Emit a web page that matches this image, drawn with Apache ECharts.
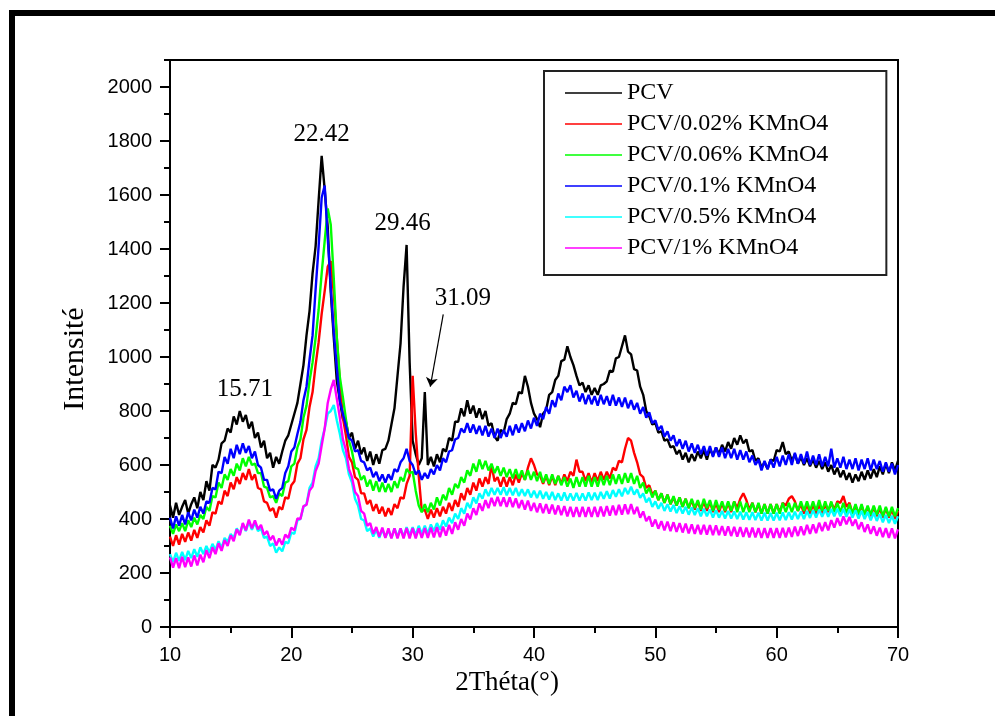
<!DOCTYPE html>
<html><head><meta charset="utf-8">
<script src="https://cdn.jsdelivr.net/npm/echarts@6/dist/echarts.min.js"></script>
<style>html,body{margin:0;padding:0;background:#fff}#c{width:995px;height:716px}</style>
</head><body><div id="c"></div>
<script>
const twoTheta = [
10,10.25,10.5,10.75,11,11.25,11.5,11.75,12,12.25,12.5,12.75,13,13.25,13.5,13.75,14,14.25,14.5,14.75,
15,15.25,15.5,15.75,16,16.25,16.5,16.75,17,17.25,17.5,17.75,18,18.25,18.5,18.75,19,19.25,19.5,19.75,
20,20.25,20.5,20.75,21,21.25,21.5,21.75,22,22.25,22.5,22.75,23,23.25,23.5,23.75,24,24.25,24.5,24.75,
25,25.25,25.5,25.75,26,26.25,26.5,26.75,27,27.25,27.5,27.75,28,28.25,28.5,28.75,29,29.25,29.5,29.75,
30,30.25,30.5,30.75,31,31.25,31.5,31.75,32,32.25,32.5,32.75,33,33.25,33.5,33.75,34,34.25,34.5,34.75,
35,35.25,35.5,35.75,36,36.25,36.5,36.75,37,37.25,37.5,37.75,38,38.25,38.5,38.75,39,39.25,39.5,39.75,
40,40.25,40.5,40.75,41,41.25,41.5,41.75,42,42.25,42.5,42.75,43,43.25,43.5,43.75,44,44.25,44.5,44.75,
45,45.25,45.5,45.75,46,46.25,46.5,46.75,47,47.25,47.5,47.75,48,48.25,48.5,48.75,49,49.25,49.5,49.75,
50,50.25,50.5,50.75,51,51.25,51.5,51.75,52,52.25,52.5,52.75,53,53.25,53.5,53.75,54,54.25,54.5,54.75,
55,55.25,55.5,55.75,56,56.25,56.5,56.75,57,57.25,57.5,57.75,58,58.25,58.5,58.75,59,59.25,59.5,59.75,
60,60.25,60.5,60.75,61,61.25,61.5,61.75,62,62.25,62.5,62.75,63,63.25,63.5,63.75,64,64.25,64.5,64.75,
65,65.25,65.5,65.75,66,66.25,66.5,66.75,67,67.25,67.5,67.75,68,68.25,68.5,68.75,69,69.25,69.5,69.75,
70];

const pcv = [
450,405,460,415,445,470,420,455,480,440,500,470,540,505,600,590,620,680,690,735,
720,780,750,800,760,785,735,760,700,720,665,690,625,645,590,630,605,650,690,710,
750,790,830,900,970,1080,1170,1310,1410,1580,1745,1620,1480,1240,1070,910,840,770,760,700,
720,660,690,640,665,615,650,600,640,605,655,660,690,750,810,930,1050,1260,1415,980,
690,640,600,625,870,600,630,595,640,610,660,650,700,690,760,760,810,780,840,790,
820,775,810,770,800,745,755,705,690,730,720,770,790,830,825,870,865,930,890,830,
790,770,740,790,805,860,870,915,930,985,990,1040,1000,970,930,895,905,870,895,860,
885,860,895,900,910,950,945,995,1000,1040,1080,1020,1010,955,950,890,860,800,780,750,
755,720,725,690,695,665,670,640,655,620,645,610,640,615,650,625,655,620,660,635,
665,640,675,650,685,660,700,675,710,680,695,650,655,615,625,590,610,585,620,615,
655,650,685,640,650,615,640,605,630,600,625,595,620,590,615,585,610,575,600,565,
590,555,580,545,570,535,565,540,575,545,580,550,585,555,595,565,605,570,610,580,
615];

const pcv002 = [
335,300,340,305,345,315,350,320,360,330,370,350,395,375,425,420,465,455,505,485,
535,510,555,530,570,545,585,545,565,515,510,465,460,430,440,405,445,435,480,475,
525,540,605,625,695,730,815,870,970,1055,1160,1245,1335,1355,1235,1070,905,775,710,630,
610,555,545,495,495,455,470,430,455,420,445,410,440,415,455,440,480,475,530,560,
930,720,560,430,435,400,435,405,440,410,445,420,460,430,470,445,495,470,515,490,
535,505,550,520,555,530,600,540,555,520,555,520,555,525,565,535,570,545,590,625,
600,565,560,530,560,525,560,525,560,530,565,540,575,560,620,575,575,540,570,535,
570,540,575,545,575,550,590,580,615,610,660,700,690,645,610,565,555,515,525,490,
505,470,495,460,490,455,480,450,480,445,475,440,470,435,465,430,465,430,465,425,
460,425,460,425,460,425,465,440,475,495,470,435,460,425,455,420,455,420,455,420,
455,425,460,450,475,485,465,430,455,420,455,420,455,420,455,420,455,425,460,435,
465,460,485,445,460,420,450,415,450,415,445,410,445,410,440,405,440,405,435,400,
430];

const pcv006 = [
375,345,380,355,385,355,395,370,405,380,415,400,445,430,485,480,535,515,565,545,
585,560,605,580,625,595,630,600,605,570,570,520,515,480,485,460,495,485,535,540,
595,605,665,695,775,820,910,980,1070,1175,1310,1430,1550,1490,1290,1070,925,850,770,690,
650,590,585,545,560,520,545,505,540,500,535,500,530,500,540,515,555,540,585,570,
575,505,450,425,455,425,460,435,480,450,490,470,515,490,530,515,555,535,580,560,
605,575,620,585,615,580,605,570,595,560,590,555,585,550,585,550,580,545,580,545,
575,540,575,535,565,530,565,530,560,525,555,520,550,515,555,520,555,520,560,520,
555,520,560,525,560,525,565,530,565,530,570,535,570,530,560,515,535,495,515,480,
505,470,495,460,490,455,485,450,480,445,475,440,475,440,470,435,475,440,470,430,
470,435,465,430,465,430,465,425,465,425,460,425,460,425,460,420,455,420,455,420,
455,420,460,425,460,425,460,430,465,430,465,430,465,430,470,430,465,430,465,425,
460,425,460,420,455,420,455,420,455,415,450,415,450,415,450,410,445,410,445,410,
440];

const pcv01 = [
405,365,410,375,415,380,425,395,435,405,445,420,465,460,515,510,575,570,630,605,
660,625,675,640,680,645,670,625,650,600,590,545,545,505,510,475,505,515,570,595,
650,665,715,760,840,890,990,1080,1250,1410,1590,1635,1440,1260,1090,960,835,790,745,700,
690,650,655,615,610,580,590,555,575,540,565,535,565,545,585,575,610,625,660,615,
600,565,580,545,570,550,585,565,600,580,625,610,650,655,695,700,735,720,755,720,
750,715,745,710,745,705,735,700,735,700,730,705,745,710,750,720,755,725,765,735,
775,745,790,770,815,790,840,815,865,840,890,870,895,850,875,835,865,825,860,825,
855,820,860,825,855,820,860,820,850,815,850,810,840,805,830,790,815,775,795,755,
765,730,745,705,725,690,710,670,695,660,690,650,680,645,675,640,670,635,670,630,
665,630,665,625,660,625,660,620,655,620,650,610,635,600,620,580,615,585,620,590,
630,595,635,600,640,600,645,605,640,605,650,600,635,600,640,595,630,595,660,590,
625,590,630,585,620,585,625,580,620,585,625,580,620,585,615,575,610,575,605,565,
600];

const pcv05 = [
270,240,275,245,278,248,282,255,288,260,295,270,300,275,308,285,318,292,330,315,
345,330,365,345,382,355,390,360,388,355,365,330,335,300,310,275,295,280,315,310,
350,345,395,400,445,455,515,535,595,625,690,735,790,800,822,765,715,655,625,565,
535,475,450,400,395,355,365,335,360,330,362,332,360,330,365,335,365,335,370,340,
370,340,375,345,375,345,380,355,385,360,395,372,405,385,420,400,440,420,460,440,
480,458,495,475,510,485,515,490,515,490,518,488,515,488,515,485,510,485,510,480,
505,478,505,475,500,472,500,470,495,468,498,468,495,468,497,468,495,468,498,470,
497,470,500,475,503,476,507,482,510,484,515,492,520,490,510,478,495,462,478,445,
465,438,460,430,455,428,452,422,447,420,445,416,443,415,440,410,438,410,435,405,
433,405,430,402,430,402,428,400,427,398,425,397,425,396,423,394,423,394,422,394,
423,395,424,396,425,398,427,400,428,400,430,404,433,405,435,408,435,408,437,410,
438,410,437,408,435,405,432,402,430,400,426,395,423,393,418,388,415,385,412,382,
410];

const pcv1 = [
258,220,255,218,260,222,258,224,265,228,268,240,285,255,295,270,310,282,322,300,
340,318,362,340,385,358,398,365,395,362,378,342,355,322,338,302,328,305,342,330,
368,358,402,400,448,452,505,520,578,605,672,735,830,880,915,845,775,695,655,585,
555,500,485,430,420,375,385,345,370,335,368,330,365,328,365,328,365,328,366,328,
366,328,365,330,366,330,368,332,370,333,372,338,378,345,388,360,400,375,420,398,
440,415,458,430,470,440,478,448,482,448,480,445,480,444,476,440,470,435,468,430,
460,425,458,422,455,420,453,417,450,414,448,410,445,408,444,408,445,408,444,408,
445,408,446,410,448,412,450,414,452,416,454,418,455,418,445,405,428,392,410,372,
398,364,392,358,390,355,388,352,385,350,383,347,380,345,378,343,378,342,377,340,
376,340,374,338,373,337,371,335,370,334,368,332,368,332,366,330,366,330,366,330,
366,330,367,332,368,334,372,337,373,340,378,345,380,348,386,355,388,358,396,368,
403,375,410,380,408,375,398,362,388,352,380,345,373,338,368,333,366,330,365,328,
362];

const seriesNames = ['PCV','PCV/0.02% KMnO4','PCV/0.06% KMnO4','PCV/0.1% KMnO4','PCV/0.5% KMnO4','PCV/1% KMnO4'];
const seriesValues = [pcv, pcv002, pcv006, pcv01, pcv05, pcv1];
const seriesColors = ['#000000','#ff0000','#00ff00','#0000ff','#00ffff','#ff00ff'];

const yMajorTicks = [0,200,400,600,800,1000,1200,1400,1600,1800,2000];
const yMinorTicks = [100,300,500,700,900,1100,1300,1500,1700,1900,2100];

// peak annotations: label text, peak position [2θ, intensity]
const peakNames = ['15.71','22.42','29.46','31.09'];
const peakCoords = [[15.75,800],[22.5,1745],[29.5,1415],[31.0,870]];
const arrowFrom = [32.52,1158];
const arrowTo = [31.45,890];

const serif = 'Liberation Serif';
const sans = 'Liberation Sans';

function pairs(vals){ return twoTheta.map((x,i)=>[x, vals[i]]); }

const labelOffsets = [[5,-22],[0,-21],[-4,-22],[38,-94]];
const legendLineIcon = 'path://M0,0L57,0L57,1.6L0,1.6Z';

const series = seriesNames.map((n,k)=>({
  name:n, type:'line', symbol:'none', showSymbol:false, animation:false,
  data: pairs(seriesValues[k]),
  lineStyle:{color:seriesColors[k], width:2.4},
  itemStyle:{color:seriesColors[k]},
  emphasis:{disabled:true}
}));

series[0].markPoint = {
  symbol:'circle', symbolSize:0, silent:true, animation:false,
  data: peakNames.map((t,i)=>({name:t, coord:peakCoords[i],
    label:{show:true, position:'inside', offset:labelOffsets[i], formatter:'{b}',
      color:'#000', fontFamily:serif, fontSize:25}}))
};
series[0].markLine = {
  silent:true, animation:false, symbol:['none','arrow'], symbolSize:9,
  lineStyle:{color:'#000', width:1.2, type:'solid'},
  label:{show:false},
  data:[[{coord:arrowFrom},{coord:arrowTo}]]
};

const chart = echarts.init(document.getElementById('c'), null, {renderer:'canvas'});
chart.setOption({
  animation:false,
  backgroundColor:'#fff',
  grid:{left:170, top:60, right:97, bottom:89, show:true, borderColor:'#000', borderWidth:2, backgroundColor:'transparent'},
  legend:{
    orient:'vertical', left:544, top:71,
    data:seriesNames.map(n=>({name:n, icon:legendLineIcon})),
    itemWidth:57, itemHeight:24, itemGap:7,
    padding:[10,58,15,21],
    borderColor:'#222', borderWidth:2,
    textStyle:{color:'#000', fontFamily:serif, fontSize:24},
    selectedMode:false
  },
  xAxis:{
    type:'value', min:10, max:70, interval:10,
    name:'2Théta(°)', nameLocation:'middle', nameGap:38,
    nameTextStyle:{color:'#000', fontFamily:serif, fontSize:27, padding:[0,54,0,0]},
    axisLine:{show:true, lineStyle:{color:'#000', width:2}},
    axisTick:{show:true, inside:false, length:11, lineStyle:{color:'#000', width:2}},
    minorTick:{show:true, splitNumber:2, length:6, lineStyle:{color:'#000', width:2}},
    axisLabel:{color:'#000', fontFamily:sans, fontSize:20, margin:18},
    splitLine:{show:false}
  },
  yAxis:[{
    type:'value', min:0, max:2100,
    name:'Intensité', nameLocation:'middle', nameGap:80, nameRotate:90,
    nameTextStyle:{color:'#000', fontFamily:serif, fontSize:30, padding:[0,31,0,0]},
    axisLine:{show:true, lineStyle:{color:'#000', width:2}},
    axisTick:{show:true, inside:false, length:10, customValues:yMajorTicks, lineStyle:{color:'#000', width:2}},
    axisLabel:{color:'#000', fontFamily:sans, fontSize:20, margin:18, customValues:yMajorTicks,
      formatter:(v)=>String(v)},
    splitLine:{show:false}
  },{
    type:'value', min:0, max:2100, position:'left',
    axisLine:{show:false},
    axisTick:{show:true, inside:false, length:6, customValues:yMinorTicks, lineStyle:{color:'#000', width:2}},
    axisLabel:{show:false},
    splitLine:{show:false}
  }],
  graphic:[{
    type:'rect', silent:true, z:100,
    shape:{x:12, y:13, width:1100, height:900},
    style:{fill:'none', stroke:'#000', lineWidth:6}
  }],
  series:series
});
</script></body></html>
